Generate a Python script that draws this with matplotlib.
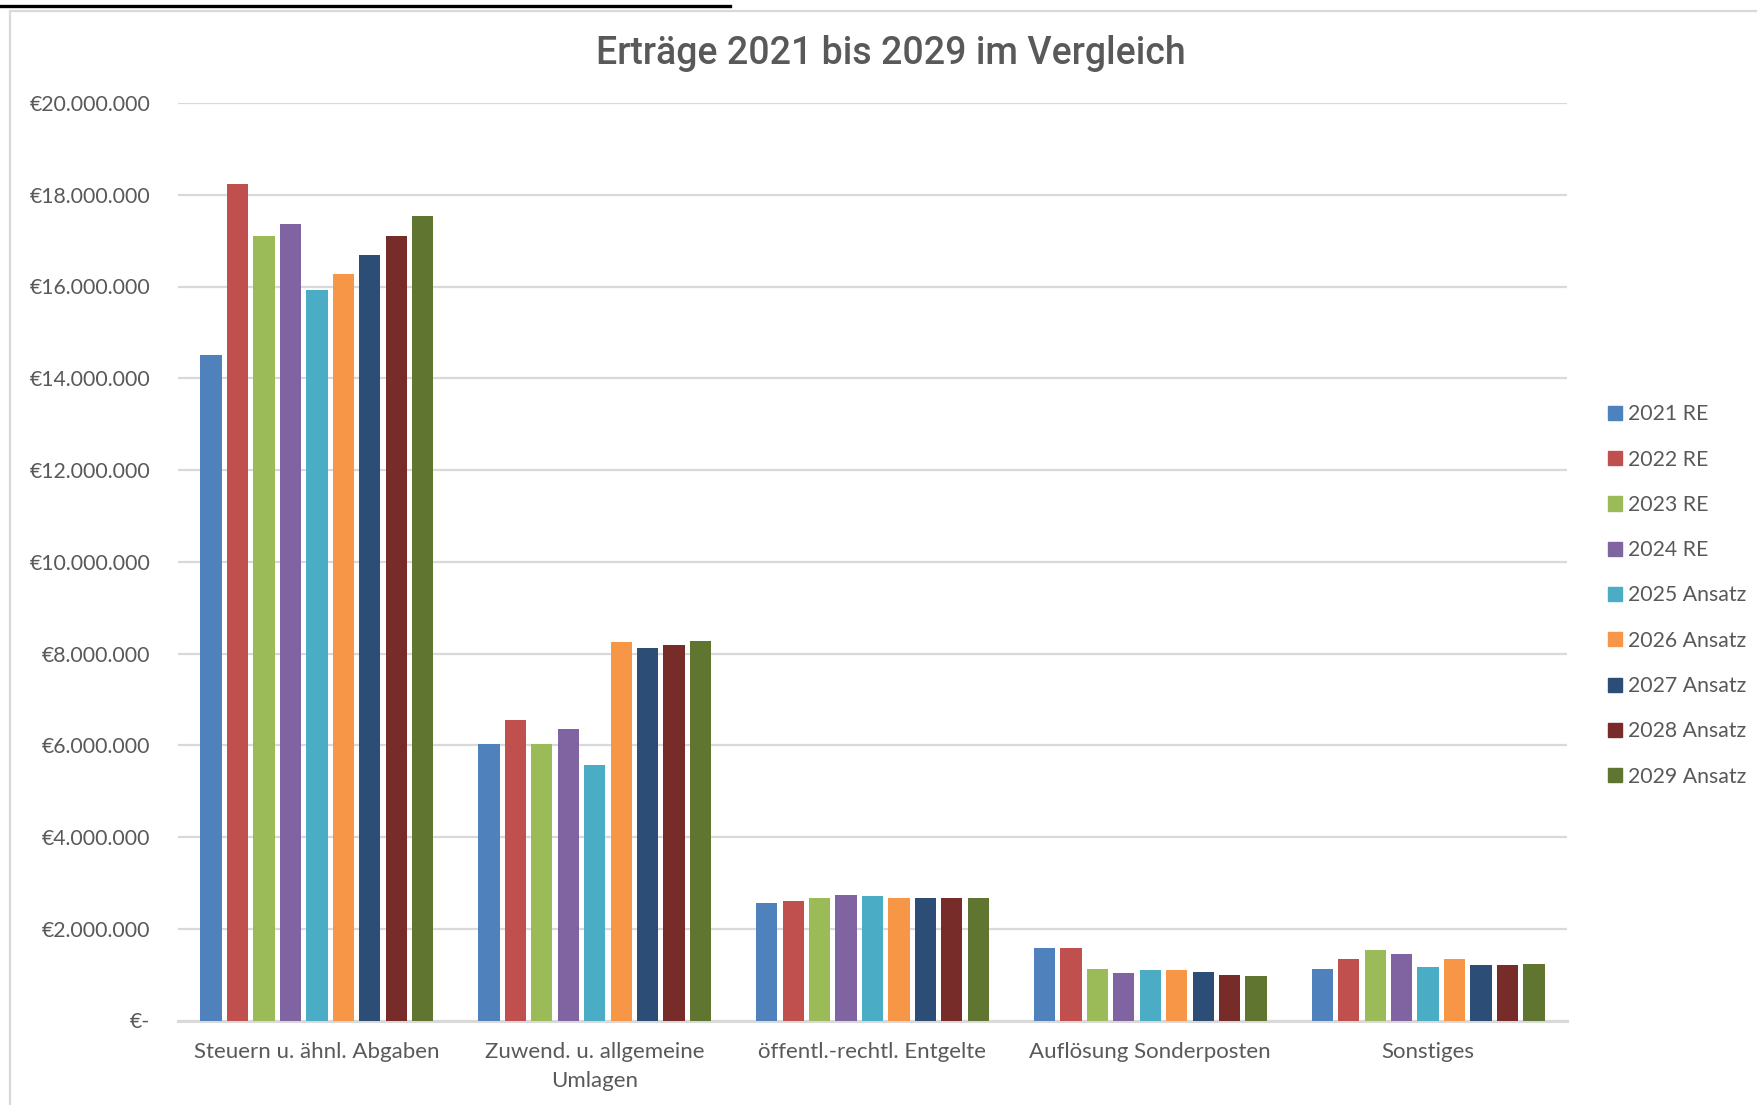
import matplotlib
matplotlib.use("Agg")
import matplotlib.pyplot as plt
import matplotlib.patches as mpatches
from matplotlib.lines import Line2D
import numpy as np

categories = ["Steuern u. ähnl. Abgaben", "Zuwend. u. allgemeine\nUmlagen",
              "öffentl.-rechtl. Entgelte", "Auflösung Sonderposten", "Sonstiges"]
series = ["2021 RE", "2022 RE", "2023 RE", "2024 RE", "2025 Ansatz",
          "2026 Ansatz", "2027 Ansatz", "2028 Ansatz", "2029 Ansatz"]

# values in EUR, one list per series (order follows categories)
v2021 = [14_500_000, 6_030_000, 2_570_000, 1_570_000, 1_130_000]
v2022 = [18_230_000, 6_540_000, 2_600_000, 1_570_000, 1_330_000]
v2023 = [17_090_000, 6_030_000, 2_660_000, 1_130_000, 1_530_000]
v2024 = [17_360_000, 6_360_000, 2_730_000, 1_030_000, 1_440_000]
v2025 = [15_920_000, 5_580_000, 2_710_000, 1_110_000, 1_160_000]
v2026 = [16_270_000, 8_240_000, 2_680_000, 1_090_000, 1_350_000]
v2027 = [16_690_000, 8_130_000, 2_660_000, 1_050_000, 1_220_000]
v2028 = [17_110_000, 8_190_000, 2_660_000, 1_000_000, 1_220_000]
v2029 = [17_530_000, 8_280_000, 2_660_000, 960_000, 1_240_000]
values = [v2021, v2022, v2023, v2024, v2025, v2026, v2027, v2028, v2029]

colors = ["#4F81BD", "#C0504D", "#9BBB59", "#8064A2", "#4BACC6",
          "#F79646", "#2C4D75", "#772C2A", "#5F7530"]

yticks = list(range(0, 20_000_001, 2_000_000))
ytick_labels = ["€-"] + [f"€{t:,}".replace(",", ".") for t in yticks[1:]]

TXT = "#595959"
GRID = "#D9D9D9"
FONT = ["Lato", "DejaVu Sans"]

fig = plt.figure(figsize=(17.57, 11.05), dpi=100)
W, H = 1757, 1105

# frame of the chart object + cut-off heading line on top
fig.patches.append(mpatches.Rectangle((10 / W, -0.01), 1.0, 1 - 10.5 / H + 0.01,
                                      transform=fig.transFigure, fill=False,
                                      edgecolor=GRID, linewidth=1.6))
fig.lines.append(Line2D([0, 730 / W], [1 - 5.5 / H, 1 - 5.5 / H], transform=fig.transFigure,
                        color="black", linewidth=2.4))

ax = fig.add_axes([178 / W, 1 - 1020.5 / H, (1567 - 178) / W, (1020.5 - 103) / H])

x = np.arange(len(categories))
pitch = 0.0952
bw = 0.0766
for i, (s, vals, c) in enumerate(zip(series, values, colors)):
    ax.bar(x + (i - 4) * pitch, vals, bw, color=c, label=s, zorder=3)

ax.set_xlim(-0.5, len(categories) - 0.5)
ax.set_ylim(0, 20_000_000)
ax.set_yticks(yticks)
ax.set_yticklabels(ytick_labels, fontsize=15.3, color=TXT, family=FONT)
ax.set_xticks(x)
ax.set_xticklabels(categories, fontsize=16, color=TXT, family=FONT, linespacing=1.55)
ax.tick_params(axis="y", length=0, pad=20)
ax.tick_params(axis="x", length=0, pad=15.5)
ax.grid(axis="y", color=GRID, linewidth=1.6, zorder=0)
for sp in ["top", "right", "left"]:
    ax.spines[sp].set_visible(False)
ax.spines["bottom"].set_color(GRID)
ax.spines["bottom"].set_linewidth(2.2)

fig.text(891 / W, 1 - 53.5 / H, "Erträge 2021 bis 2029 im Vergleich", ha="center", va="center",
         fontsize=27, color=TXT, fontweight="medium", family=["Roboto", "DejaVu Sans"])

handles = [mpatches.Patch(color=c, label=s) for s, c in zip(series, colors)]
leg = fig.legend(handles=handles, loc="center left", bbox_to_anchor=(1608 / W, 1 - 595.5 / H),
                 frameon=False, prop={"family": FONT, "size": 15.3},
                 handlelength=0.65, handleheight=0.65, handletextpad=0.3, labelspacing=1.19,
                 borderaxespad=0, borderpad=0)
for t in leg.get_texts():
    t.set_color(TXT)

fig.savefig("out.png", dpi=100, facecolor="white")
